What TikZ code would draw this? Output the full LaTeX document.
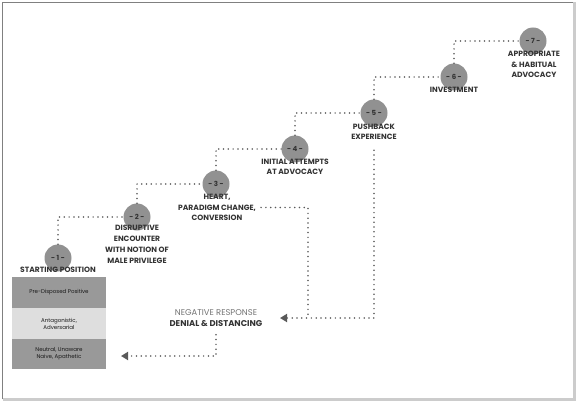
\documentclass[tikz,border=0pt]{standalone}
\usepackage{fontspec}
\setmainfont{Poppins}
\usetikzlibrary{arrows.meta}

\begin{document}
\begin{tikzpicture}[x=1pt, y=-1pt, every node/.style={text=black!80, align=center, font=\bfseries\fontsize{7.6}{10.9}\selectfont}]

\useasboundingbox (0,0) rectangle (576,401);
\draw[black!50, line width=1pt] (2.5,399) -- (2.5,2.5) -- (574,2.5);
\draw[black!20, line width=3pt] (574.5,2.5) -- (574.5,399.5) -- (2.5,399.5);

\tikzset{dotline/.style={black!65, line width=1.7pt, line cap=round, dash pattern=on 0pt off 4.8pt}};
\tikzset{back/.style={-{Triangle[width=8pt, length=7pt]}}};
\tikzset{stage/.style={circle, fill=black!43, minimum size=27pt, inner sep=0pt, font=\bfseries\fontsize{7}{7}\selectfont}};
\tikzset{caption/.style={anchor=base, inner sep=0pt}};
\tikzset{band/.style={minimum width=94pt, inner sep=0pt, text=black!90, font=\fontsize{5.5}{7}\selectfont}};

\node[stage] (s1) at (58, 258) {- 1 -};
\node[stage] (s2) at (137, 217) {- 2 -};
\node[stage] (s3) at (216, 184) {- 3 -};
\node[stage] (s4) at (295, 149) {- 4 -};
\node[stage] (s5) at (374, 113) {- 5 -};
\node[stage] (s6) at (454, 77) {- 6 -};
\node[stage] (s7) at (533, 41) {- 7 -};

% base = last line
\node[caption] (l1) at (58, 272) {STARTING POSITION};
\node[caption] (l2) at (137, 263.5) {DISRUPTIVE\\ENCOUNTER\\WITH NOTION OF\\MALE PRIVILEGE};
\node[caption] (l3) at (217, 221) {HEART,\\PARADIGM CHANGE,\\CONVERSION};
\node[caption] (l4) at (295, 175) {INITIAL ATTEMPTS\\AT ADVOCACY};
\node[caption] (l5) at (374, 140) {PUSHBACK\\EXPERIENCE};
\node[caption] (l6) at (454, 93) {INVESTMENT};
\node[caption] (l7) at (534, 78) {APPROPRIATE\\\& HABITUAL\\ADVOCACY};

\node[band, fill=black!40, minimum height=31pt] (r1) at (59, 292.5) {Pre-Disposed Positive};
\node[band, fill=black!13, minimum height=31pt] (r2) at (59, 323.5) {Antagonistic,\\Adversarial};
\node[band, fill=black!40, minimum height=30pt] (r3) at (59, 354) {Neutral, Unaware\\Naive, Apathetic};

\node[caption, text=black!55, font=\fontsize{8.4}{9}\selectfont] (n1) at (216, 315) {NEGATIVE RESPONSE};
\node[caption, font=\bfseries\fontsize{8.4}{9}\selectfont] (n2) at (216, 326.5) {DENIAL \& DISTANCING};

\coordinate (negtip) at (280, 318);
\coordinate (merge) at (308, 318);
\coordinate (boxtip) at (121, 356);

\draw[dotline] (s1) |- (s2);
\draw[dotline] (s2) |- (s3);
\draw[dotline] (s3) |- (s4);
\draw[dotline] (s4) |- (s5);
\draw[dotline] (s5) |- (s6);
\draw[dotline] (s6) |- (s7);

\draw[dotline, back, shorten <=10pt] (l5.south) |- (negtip);
\draw[dotline, shorten <=5pt] (l3.east) -| (merge);
\draw[dotline, back, shorten <=8pt] (n2.south) |- (boxtip);
\end{tikzpicture}
\end{document}
